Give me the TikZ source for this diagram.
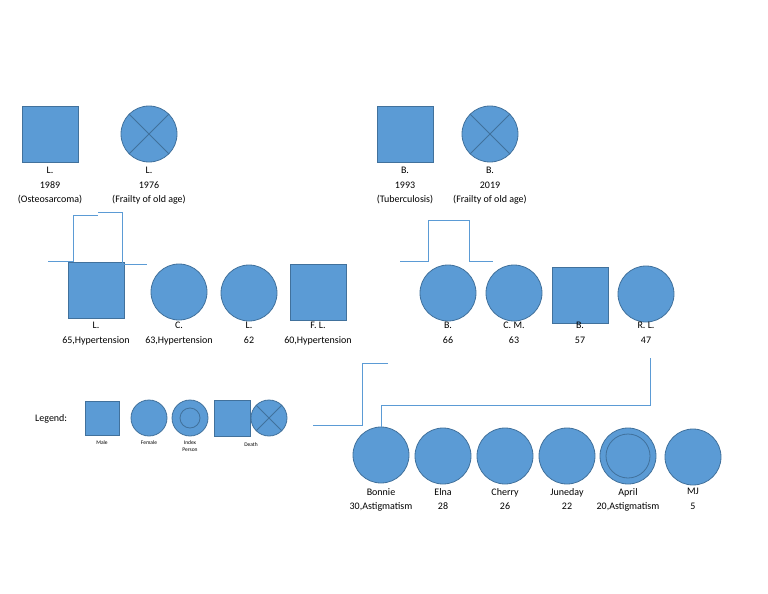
\documentclass[tikz,border=0pt]{standalone}
\usepackage{fontspec}
\setmainfont{Carlito}
\begin{document}
\begin{tikzpicture}[x=1pt,y=-1pt,
  fillc/.style={fill={rgb,255:red,91;green,155;blue,213},draw={rgb,255:red,65;green,113;blue,156},line width=0.8pt},
  sq/.style={fillc,rectangle,minimum size=#1,inner sep=0pt},
  ci/.style={fillc,circle,minimum size=#1,inner sep=0pt},
  lbl/.style={align=center,font=\fontsize{10}{14.5}\selectfont,inner sep=0pt},
  sm/.style={align=center,font=\fontsize{5.5}{7}\selectfont,inner sep=0pt},
  ln/.style={draw={rgb,255:red,91;green,155;blue,213},line width=0.8pt},
  xx/.style={draw={rgb,255:red,65;green,113;blue,156},line width=0.8pt}]
\useasboundingbox (0,0) rectangle (768,594);
% generation 1
\node[sq=56] (g1a) at (50,134) {};
\node[ci=56] (g1b) at (149,134) {};
\draw[xx] (g1b.north west) -- (g1b.south east) (g1b.north east) -- (g1b.south west);
\node[sq=56] (g1c) at (405,134) {};
\node[ci=56] (g1d) at (490,134) {};
\draw[xx] (g1d.north west) -- (g1d.south east) (g1d.north east) -- (g1d.south west);
\node[lbl,anchor=north] (t1a) at (50,167) {L.\\1989\\(Osteosarcoma)};
\node[lbl,anchor=north] (t1b) at (149,167) {L.\\1976\\(Frailty of old age)};
\node[lbl,anchor=north] (t1c) at (405,167) {B.\\1993\\(Tuberculosis)};
\node[lbl,anchor=north] (t1d) at (490,167) {B.\\2019\\(Frailty of old age)};
% generation 2
\node[sq=56] (g2a) at (96,290) {};
\node[ci=56] (g2b) at (179,292) {};
\node[ci=56] (g2c) at (249,293) {};
\node[sq=56] (g2d) at (318,292) {};
\node[ci=56] (g2e) at (448,293) {};
\node[ci=56] (g2f) at (514,293) {};
\node[sq=56] (g2g) at (580,295) {};
\node[ci=56] (g2h) at (646,294) {};
\node[lbl,anchor=north] at (96,322) {L.\\65,Hypertension};
\node[lbl,anchor=north] at (179,322) {C.\\63,Hypertension};
\node[lbl,anchor=north] at (249,322) {L.\\62};
\node[lbl,anchor=north] at (318,322) {F. L.\\60,Hypertension};
\node[lbl,anchor=north] at (448,322) {B.\\66};
\node[lbl,anchor=north] at (514,322) {C. M.\\63};
\node[lbl,anchor=north] at (580,322) {B.\\57};
\node[lbl,anchor=north] at (646,322) {R. L.\\47};
% generation 3
\node[ci=56] (g3a) at (381,455) {};
\node[ci=56] (g3b) at (443,456) {};
\node[ci=56] (g3c) at (505,456) {};
\node[ci=56] (g3d) at (567,456) {};
\node[ci=56] (g3e) at (628,456) {};
\node[ci=44,fill=none] (g3ei) at (628,456) {};
\node[ci=56] (g3f) at (693,457) {};
\node[lbl,anchor=north] at (381,488) {Bonnie\\30,Astigmatism};
\node[lbl,anchor=north] at (443,488) {Elna\\28};
\node[lbl,anchor=north] at (505,488) {Cherry\\26};
\node[lbl,anchor=north] at (567,488) {Juneday\\22};
\node[lbl,anchor=north] at (628,488) {April\\20,Astigmatism};
\node[lbl,anchor=north] at (693,488) {MJ\\5};
% connectors
\coordinate (c1) at (48,261); \coordinate (c2) at (147,264);
\draw[ln] (c1) -- (73,261) -- (73,215) -- (98,215);
\draw[ln] (98,212) -- (122,212) -- (122,264) -- (c2);
\coordinate (c3) at (400,261); \coordinate (c4) at (493,261);
\draw[ln] (c3) -- (428,261) -- (428,220) -- (469,220) -- (469,261) -- (c4);
\coordinate (c5) at (388,363); \coordinate (c6) at (313,425);
\draw[ln] (c5) -- (362,363) -- (362,425) -- (c6);
\coordinate (c7) at (650,358);
\draw[ln] (c7) -- (650,405) -- (381,405) -- (g3a.north);
% legend
\node[lbl,anchor=west] (lg) at (35,419) {Legend:};
\node[sq=34] (l1) at (102,418) {};
\node[ci=36] (l2) at (149,418) {};
\node[ci=36] (l3) at (190,418) {};
\node[ci=20,fill=none] (l3i) at (190,418) {};
\node[sq=36] (l4) at (232,418) {};
\node[ci=36] (l5) at (269,418) {};
\draw[xx] (l5.north west) -- (l5.south east) (l5.north east) -- (l5.south west);
\node[sm] at (102,443) {Male};
\node[sm,anchor=north] at (190,440) {Index\\Person};
\node[sm] at (149,443) {Female};
\node[sm] at (251,445) {Death};
\end{tikzpicture}
\end{document}
